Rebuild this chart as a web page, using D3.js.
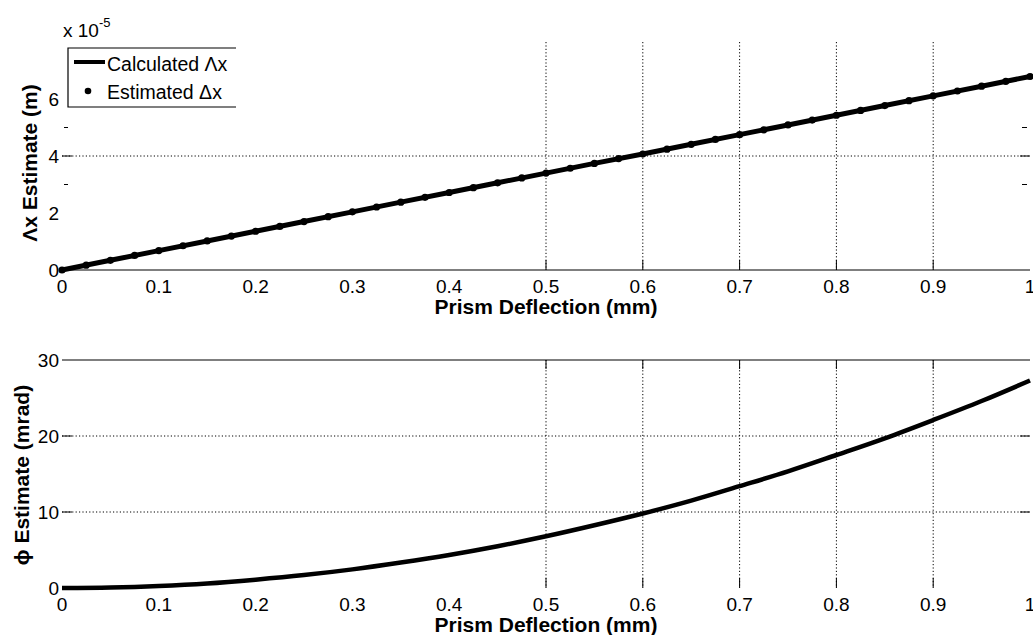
<!DOCTYPE html>
<html>
<head>
<meta charset="utf-8">
<script src="https://cdn.jsdelivr.net/npm/d3@7"></script>
<style>
  body { margin: 0; background: #fff; }
  svg text { font-family: "Liberation Sans", Arial, sans-serif; fill: #000; }
</style>
</head>
<body>
<div id="chart"></div>
<script>
// Prism deflection (mm) — line samples
const deflLine = [0, 0.05, 0.1, 0.15, 0.2, 0.25, 0.3, 0.35, 0.4, 0.45, 0.5,
  0.55, 0.6, 0.65, 0.7, 0.75, 0.8, 0.85, 0.9, 0.95, 1.0];
// Calculated Δx (x 1e-5 m)
const dxCalc = [0, 0.34, 0.68, 1.02, 1.36, 1.70, 2.04, 2.38, 2.72, 3.06, 3.40,
  3.74, 4.07, 4.41, 4.75, 5.09, 5.43, 5.77, 6.11, 6.45, 6.79];
// Estimated Δx markers
const deflDots = [0, 0.025, 0.05, 0.075, 0.1, 0.125, 0.15, 0.175, 0.2, 0.225, 0.25,
  0.275, 0.3, 0.325, 0.35, 0.375, 0.4, 0.425, 0.45, 0.475, 0.5, 0.525, 0.55, 0.575,
  0.6, 0.625, 0.65, 0.675, 0.7, 0.725, 0.75, 0.775, 0.8, 0.825, 0.85, 0.875, 0.9,
  0.925, 0.95, 0.975, 1.0];
const dxEst = [0, 0.17, 0.34, 0.51, 0.68, 0.85, 1.02, 1.19, 1.36, 1.53, 1.70,
  1.87, 2.04, 2.21, 2.38, 2.55, 2.72, 2.89, 3.06, 3.23, 3.40, 3.57, 3.74, 3.91,
  4.07, 4.24, 4.41, 4.58, 4.75, 4.92, 5.09, 5.26, 5.43, 5.60, 5.77, 5.94, 6.11,
  6.28, 6.45, 6.62, 6.79];
// φ estimate (mrad)
const phiEst = [0, 0.07, 0.27, 0.6, 1.1, 1.7, 2.45, 3.35, 4.35, 5.5, 6.8,
  8.25, 9.8, 11.5, 13.4, 15.35, 17.5, 19.7, 22.1, 24.6, 27.3];

const xTicks = [0, 0.1, 0.2, 0.3, 0.4, 0.5, 0.6, 0.7, 0.8, 0.9, 1];
const xGrid = [0.5, 0.6, 0.7, 0.8, 0.9];
const topTicks = [0, 2, 4, 6];
const topGrid = [4];
const topMinor = [3, 5];
const botTicks = [0, 10, 20, 30];
const botGrid = [10, 20];

const W = 1033, H = 635;
const TICK_FS = 19, LABEL_FS = 21;
const svg = d3.select("#chart").append("svg").attr("width", W).attr("height", H);

const x = d3.scaleLinear().domain([0, 1]).range([62, 1030]);
const yTop = d3.scaleLinear().domain([0, 8]).range([270, 42]);
const yBot = d3.scaleLinear().domain([0, 30]).range([588, 360]);

const dotted = g => g.attr("stroke", "#000").attr("stroke-width", 1).attr("stroke-dasharray", "1.2,2.2");

// ---------- top panel ----------
const gTop = svg.append("g");

// vertical grid
gTop.selectAll(".vg").data(xGrid).enter().append("line")
  .attr("x1", d => x(d)).attr("x2", d => x(d))
  .attr("y1", yTop(8)).attr("y2", yTop(0)).call(dotted);
gTop.selectAll(".vt").data(xGrid).enter().append("line")
  .attr("x1", d => x(d)).attr("x2", d => x(d))
  .attr("y1", yTop(0) - 10).attr("y2", yTop(0))
  .attr("stroke", "#000");

// horizontal grid
gTop.selectAll(".hg").data(topGrid).enter().append("line")
  .attr("x1", x(0)).attr("x2", x(1))
  .attr("y1", d => yTop(d)).attr("y2", d => yTop(d)).call(dotted);
topGrid.forEach(v => {
  gTop.append("line").attr("x1", x(0)).attr("x2", x(0) + 10)
    .attr("y1", yTop(v)).attr("y2", yTop(v)).attr("stroke", "#000");
  gTop.append("line").attr("x1", x(1) - 10).attr("x2", x(1))
    .attr("y1", yTop(v)).attr("y2", yTop(v)).attr("stroke", "#000");
});
topMinor.forEach(v => {
  gTop.append("line").attr("x1", x(0) + 2).attr("x2", x(0) + 6)
    .attr("y1", yTop(v)).attr("y2", yTop(v)).attr("stroke", "#000");
  gTop.append("line").attr("x1", x(1) - 8).attr("x2", x(1) - 3)
    .attr("y1", yTop(v)).attr("y2", yTop(v)).attr("stroke", "#000");
});

// x axis line
gTop.append("line").attr("x1", x(0)).attr("x2", x(1))
  .attr("y1", yTop(0)).attr("y2", yTop(0)).attr("stroke", "#000").attr("stroke-width", 1.2);

// tick labels
gTop.selectAll(".xl").data(xTicks).enter().append("text")
  .attr("x", d => x(d)).attr("y", yTop(0) + 23)
  .attr("text-anchor", "middle").attr("font-size", TICK_FS)
  .text(d => d3.format("")(d));
gTop.selectAll(".yl").data(topTicks).enter().append("text")
  .attr("x", x(0) - 3).attr("y", d => yTop(d) + 7)
  .attr("text-anchor", "end").attr("font-size", TICK_FS)
  .text(d => d);

// exponent
const ex = gTop.append("text").attr("x", 63).attr("y", 37).attr("font-size", TICK_FS);
ex.append("tspan").text("x 10");
ex.append("tspan").attr("dy", -10).attr("font-size", 13).text("-5");

// labels
gTop.append("text").attr("x", x(0.5)).attr("y", 314)
  .attr("text-anchor", "middle").attr("font-size", LABEL_FS).attr("font-weight", "bold")
  .text("Prism Deflection (mm)");
gTop.append("text").attr("transform", `translate(37,163) rotate(-90)`)
  .attr("text-anchor", "middle").attr("font-size", LABEL_FS).attr("font-weight", "bold")
  .text("Λx Estimate (m)");

// data
const lineTop = d3.line().x((d, i) => x(deflLine[i])).y(d => yTop(d));
gTop.append("path").datum(dxCalc).attr("d", lineTop)
  .attr("fill", "none").attr("stroke", "#000").attr("stroke-width", 5);
gTop.selectAll(".dot").data(dxEst).enter().append("circle")
  .attr("cx", (d, i) => x(deflDots[i])).attr("cy", d => yTop(d))
  .attr("r", 3.6).attr("fill", "#000");

// legend
const lg = gTop.append("g");
lg.append("rect").attr("x", 68).attr("y", 48).attr("width", 168).attr("height", 59).attr("fill", "#fff");
lg.append("path").attr("d", "M236,48 H68 V107 H236").attr("fill", "none").attr("stroke", "#000").attr("stroke-width", 1.2);
lg.append("line").attr("x1", 74).attr("x2", 105).attr("y1", 62).attr("y2", 62)
  .attr("stroke", "#000").attr("stroke-width", 4);
lg.append("text").attr("x", 107).attr("y", 71).attr("font-size", 19.5).text("Calculated Λx");
lg.append("circle").attr("cx", 88).attr("cy", 91).attr("r", 3.3).attr("fill", "#000");
lg.append("text").attr("x", 107).attr("y", 99).attr("font-size", 19.5).text("Estimated Δx");

// ---------- bottom panel ----------
const gBot = svg.append("g");

gBot.selectAll(".vg").data(xGrid).enter().append("line")
  .attr("x1", d => x(d)).attr("x2", d => x(d))
  .attr("y1", yBot(30)).attr("y2", yBot(0)).call(dotted);
xGrid.forEach(v => {
  gBot.append("line").attr("x1", x(v)).attr("x2", x(v))
    .attr("y1", yBot(30)).attr("y2", yBot(30) + 9).attr("stroke", "#000");
  gBot.append("line").attr("x1", x(v)).attr("x2", x(v))
    .attr("y1", yBot(0) - 10).attr("y2", yBot(0)).attr("stroke", "#000");
});
gBot.selectAll(".hg").data(botGrid).enter().append("line")
  .attr("x1", x(0)).attr("x2", x(1))
  .attr("y1", d => yBot(d)).attr("y2", d => yBot(d)).call(dotted);
botGrid.forEach(v => {
  gBot.append("line").attr("x1", x(0)).attr("x2", x(0) + 10)
    .attr("y1", yBot(v)).attr("y2", yBot(v)).attr("stroke", "#000");
  gBot.append("line").attr("x1", x(1) - 10).attr("x2", x(1))
    .attr("y1", yBot(v)).attr("y2", yBot(v)).attr("stroke", "#000");
});
// top border
gBot.append("line").attr("x1", x(0)).attr("x2", x(1))
  .attr("y1", yBot(30)).attr("y2", yBot(30)).attr("stroke", "#000").attr("stroke-width", 1.2);

gBot.selectAll(".xl").data(xTicks).enter().append("text")
  .attr("x", d => x(d)).attr("y", yBot(0) + 23)
  .attr("text-anchor", "middle").attr("font-size", TICK_FS)
  .text(d => d3.format("")(d));
gBot.selectAll(".yl").data(botTicks).enter().append("text")
  .attr("x", x(0) - 3).attr("y", d => yBot(d) + 7)
  .attr("text-anchor", "end").attr("font-size", TICK_FS)
  .text(d => d);

gBot.append("text").attr("x", x(0.5)).attr("y", 632)
  .attr("text-anchor", "middle").attr("font-size", LABEL_FS).attr("font-weight", "bold")
  .text("Prism Deflection (mm)");
gBot.append("text").attr("transform", `translate(29,475) rotate(-90)`)
  .attr("text-anchor", "middle").attr("font-size", LABEL_FS).attr("font-weight", "bold")
  .text("ϕ Estimate (mrad)");

const lineBot = d3.line().x((d, i) => x(deflLine[i])).y(d => yBot(d)).curve(d3.curveMonotoneX);
gBot.append("path").datum(phiEst).attr("d", lineBot)
  .attr("fill", "none").attr("stroke", "#000").attr("stroke-width", 4.5);
</script>
</body>
</html>
